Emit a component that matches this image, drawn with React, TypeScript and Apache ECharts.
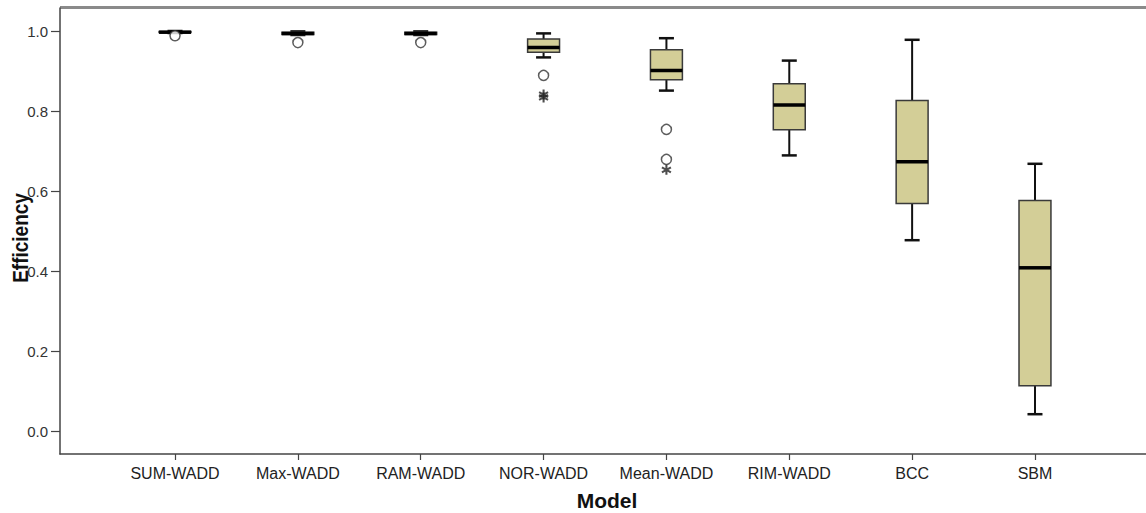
import React, { useEffect, useRef } from "react";
import * as echarts from "echarts";

const categories = ["SUM-WADD", "Max-WADD", "RAM-WADD", "NOR-WADD", "Mean-WADD", "RIM-WADD", "BCC", "SBM"];
const lowerWhisker = [0.995, 0.99, 0.99, 0.934, 0.851, 0.689, 0.477, 0.042];
const q1Values = [0.996, 0.991, 0.991, 0.947, 0.878, 0.753, 0.569, 0.113];
const medianValues = [0.997, 0.994, 0.994, 0.959, 0.901, 0.815, 0.673, 0.408];
const q3Values = [0.999, 0.997, 0.997, 0.98, 0.953, 0.868, 0.826, 0.576];
const upperWhisker = [1.0, 0.999, 0.999, 0.994, 0.982, 0.926, 0.978, 0.668];
// [category index, value]
const mildOutliers = [[0, 0.988], [1, 0.971], [2, 0.971], [3, 0.889], [4, 0.754], [4, 0.679]];
const extremeOutliers = [[3, 0.841], [3, 0.834], [4, 0.653]];
const yTickValues = [0, 0.2, 0.4, 0.6, 0.8, 1.0];

const Y_MIN = -0.0575;
const Y_MAX = 1.0575;

const STAR =
  "path://M-1,-5L-1,5L1,5L1,-5Z M-4.83,-1.634L3.83,3.366L4.83,1.634L-3.83,-3.366Z M-3.83,3.366L4.83,-1.634L3.83,-3.366L-4.83,1.634Z";

const FONT = "'Liberation Sans', Arial, sans-serif";

export default function App() {
  const ref = useRef<HTMLDivElement>(null);
  useEffect(() => {
    if (!ref.current) return;
    const chart = echarts.init(ref.current, null, { renderer: "svg" });
    const boxData = categories.map((_, i) => [
      i,
      lowerWhisker[i],
      q1Values[i],
      medianValues[i],
      q3Values[i],
      upperWhisker[i],
    ]);
    chart.setOption({
      animation: false,
      backgroundColor: "#ffffff",
      grid: [
        { left: 60, right: 0, top: 8, bottom: 59 },
        { left: 113.6, right: 49.6, top: 8, bottom: 59 },
      ],
      xAxis: [
        {
          gridIndex: 0,
          type: "value",
          min: 0,
          max: 1,
          axisLine: { show: true, onZero: false, lineStyle: { color: "#444", width: 1.5 } },
          axisTick: { show: false },
          axisLabel: { show: false },
          splitLine: { show: false },
        },
        {
          gridIndex: 1,
          type: "category",
          data: categories,
          boundaryGap: true,
          axisLine: { show: false, onZero: false },
          axisTick: {
            show: true,
            alignWithLabel: true,
            length: 6,
            lineStyle: { color: "#444", width: 1.2 },
          },
          axisLabel: {
            color: "#222",
            fontSize: 16,
            fontFamily: FONT,
            margin: 11,
            interval: 0,
          },
          splitLine: { show: false },
        },
      ],
      yAxis: [
        {
          gridIndex: 0,
          type: "value",
          min: Y_MIN,
          max: Y_MAX,
          axisLine: { show: true, onZero: false, lineStyle: { color: "#444", width: 1.5 } },
          axisTick: {
            show: true,
            length: 9,
            customValues: yTickValues,
            lineStyle: { color: "#444", width: 1.2 },
          },
          axisLabel: {
            color: "#333",
            fontSize: 15,
            fontFamily: FONT,
            margin: 12,
            customValues: yTickValues,
            formatter: (v: number) => v.toFixed(1),
          },
          splitLine: { show: false },
        },
        {
          gridIndex: 1,
          type: "value",
          min: Y_MIN,
          max: Y_MAX,
          show: false,
          splitLine: { show: false },
        },
      ],
      graphic: [
        {
          type: "line",
          shape: { x1: 60, y1: 7.5, x2: 1146, y2: 7.5 },
          style: { stroke: "#8a8a8a", lineWidth: 3 },
          silent: true,
        },
        {
          type: "text",
          x: 21,
          y: 238,
          rotation: Math.PI / 2,
          scaleY: 1.12,
          style: {
            text: "Efficiency",
            font: `bold 19px ${FONT}`,
            fill: "#111",
            align: "center",
            verticalAlign: "middle",
          },
        },
        {
          type: "text",
          x: 607,
          y: 500,
          style: {
            text: "Model",
            font: `bold 21px ${FONT}`,
            fill: "#111",
            align: "center",
            verticalAlign: "middle",
          },
        },
      ],
      series: [
        {
          type: "custom",
          xAxisIndex: 1,
          yAxisIndex: 1,
          encode: { x: 0, y: [1, 2, 3, 4, 5] },
          data: boxData,
          clip: false,
          renderItem: (params: any, api: any) => {
            const idx = api.value(0);
            const pLo = api.coord([idx, api.value(1)]);
            const pQ1 = api.coord([idx, api.value(2)]);
            const pMed = api.coord([idx, api.value(3)]);
            const pQ3 = api.coord([idx, api.value(4)]);
            const pHi = api.coord([idx, api.value(5)]);
            const band = api.size([1, 0])[0];
            const bw = band * 0.26;
            const cw = bw * 0.47;
            const cx = pMed[0];
            const whisk = { stroke: "#111", lineWidth: 2 };
            return {
              type: "group",
              children: [
                { type: "line", shape: { x1: cx, y1: pQ3[1], x2: cx, y2: pHi[1] }, style: whisk },
                { type: "line", shape: { x1: cx, y1: pQ1[1], x2: cx, y2: pLo[1] }, style: whisk },
                { type: "line", shape: { x1: cx - cw / 2, y1: pHi[1], x2: cx + cw / 2, y2: pHi[1] }, style: { stroke: "#111", lineWidth: 2.5 } },
                { type: "line", shape: { x1: cx - cw / 2, y1: pLo[1], x2: cx + cw / 2, y2: pLo[1] }, style: { stroke: "#111", lineWidth: 2.5 } },
                {
                  type: "rect",
                  shape: { x: cx - bw / 2, y: pQ3[1], width: bw, height: pQ1[1] - pQ3[1] },
                  style: { fill: "#d3ce97", stroke: "#3a3a3a", lineWidth: 1.5 },
                },
                {
                  type: "line",
                  shape: { x1: cx - bw / 2, y1: pMed[1], x2: cx + bw / 2, y2: pMed[1] },
                  style: { stroke: "#000", lineWidth: 3.5 },
                },
              ],
            };
          },
        },
        {
          type: "scatter",
          xAxisIndex: 1,
          yAxisIndex: 1,
          data: mildOutliers,
          symbol: "circle",
          symbolSize: 10,
          itemStyle: { color: "#ffffff", borderColor: "#333", borderWidth: 1.5 },
          z: 3,
        },
        {
          type: "scatter",
          xAxisIndex: 1,
          yAxisIndex: 1,
          data: extremeOutliers,
          symbol: STAR,
          symbolSize: 10,
          itemStyle: { color: "#222" },
          z: 4,
        },
      ],
    });
    return () => chart.dispose();
  }, []);
  return (
    <div
      ref={ref}
      style={{ position: "fixed", left: 0, top: 0, width: 1146, height: 513, background: "#fff" }}
    />
  );
}
